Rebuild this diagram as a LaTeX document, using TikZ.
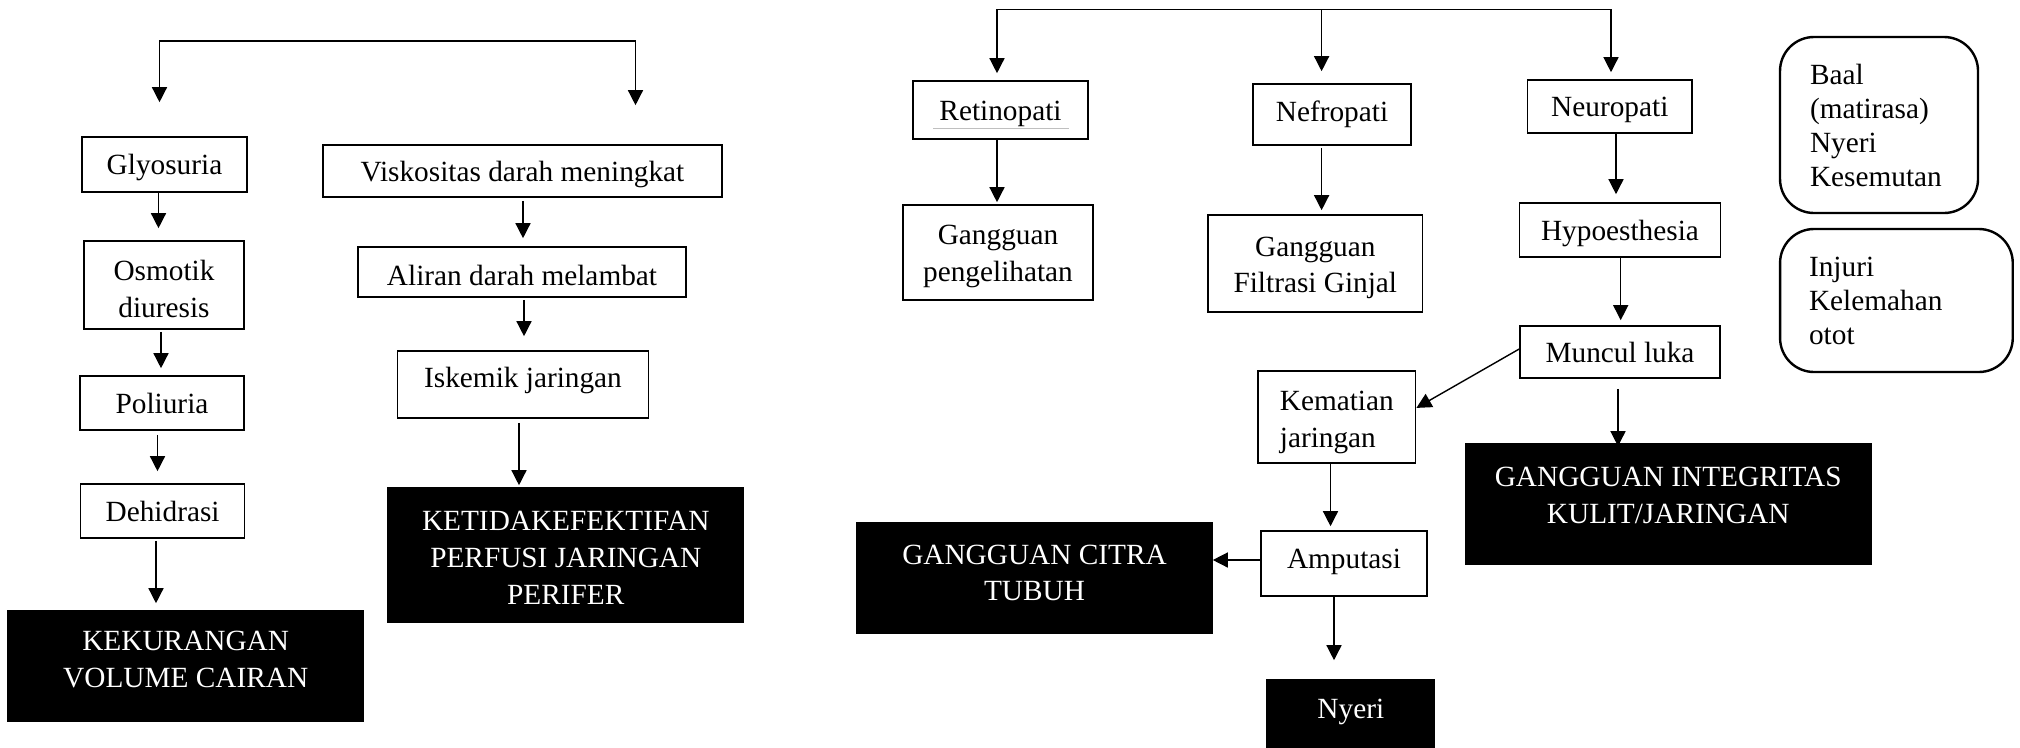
\documentclass[tikz,border=0pt]{standalone}
\usepackage{fontspec}
\setmainfont{Liberation Serif}
\usetikzlibrary{arrows.meta, positioning}

\begin{document}
\begin{tikzpicture}[x=1pt, y=-1pt,
  font=\fontsize{29.3}{36.7}\selectfont,
  box/.style={draw, line width=1.6pt, inner sep=0pt, align=center},
  one/.style={text height=26pt, text depth=6pt},
  blk/.style={box, draw=black, fill=black, text=white},
  note/.style={draw, line width=2.4pt, rounded corners=34pt, align=left, inner sep=0pt, font=\fontsize{29.3}{34}\selectfont},
  arr/.style={-{Triangle[width=15pt, length=15pt]}, line width=1.4pt}]
\useasboundingbox (0,0) rectangle (2020,747);
\node[box, one, minimum width=165pt, minimum height=55pt] (glyo) at (164.5,164.5) {Glyosuria};
\node[box, minimum width=160pt, minimum height=88pt] (osmo) at (164,285) {\rule{0pt}{28pt}Osmotik\\diuresis};
\node[box, one, minimum width=164pt, minimum height=54pt] (poli) at (162,403) {Poliuria};
\node[box, one, minimum width=164pt, minimum height=54pt] (dehi) at (162.6,511) {Dehidrasi};
\node[blk, minimum width=355.5pt, minimum height=110pt] (kurang) at (185.7,666) {KEKURANGAN\\VOLUME CAIRAN\rule[-13pt]{0pt}{13pt}};
\node[box, one, minimum width=399pt, minimum height=52pt] (visko) at (522.5,171) {Viskositas darah meningkat};
\node[box, text height=32pt, text depth=6pt, minimum width=328pt, minimum height=50pt] (aliran) at (522,272) {Aliran darah melambat};
\node[box, text height=11pt, text depth=6pt, minimum width=251pt, minimum height=67pt] (iskemik) at (523,384.5) {Iskemik jaringan};
\node[blk, minimum width=355.6pt, minimum height=134pt] (tidak) at (565.8,555) {\rule{0pt}{25pt}KETIDAKEFEKTIFAN\\PERFUSI JARINGAN\\PERIFER};
\node[box, one, minimum width=175pt, minimum height=58pt] (retino) at (1000.5,110) {Retinopati};
\node[box, minimum width=190pt, minimum height=95pt] (lihat) at (998,252.5) {\rule{0pt}{28pt}Gangguan\\pengelihatan};
\node[box, minimum width=158pt, minimum height=61pt] (nefro) at (1332,114.5) {Nefropati};
\node[box, minimum width=214.6pt, minimum height=97pt] (ginjal) at (1315.3,263.5) {\rule{0pt}{28pt}Gangguan\\Filtrasi Ginjal};
\node[box, one, minimum width=164.4pt, minimum height=53pt] (neuro) at (1609.8,106.5) {Neuropati};
\node[box, one, minimum width=201pt, minimum height=54pt] (hypo) at (1620,230) {Hypoesthesia};
\node[box, one, minimum width=200pt, minimum height=52pt] (muncul) at (1620,352) {Muncul luka};
\node[box, align=left, minimum width=157.6pt, minimum height=91.7pt] (kematian) at (1336.8,416.9) {\rule{0pt}{30pt}Kematian\\jaringan};
\node[blk, minimum width=405pt, minimum height=120pt] (integ) at (1668.2,504) {GANGGUAN INTEGRITAS\\KULIT/JARINGAN\rule[-18pt]{0pt}{18pt}};
\node[box, text height=15.6pt, text depth=6pt, minimum width=166pt, minimum height=65pt] (amputasi) at (1344,563.5) {Amputasi};
\node[blk, minimum width=355pt, minimum height=110.3pt] (citra) at (1034.5,577.9) {GANGGUAN CITRA\\TUBUH\rule[-10pt]{0pt}{10pt}};
\node[blk, text height=15pt, text depth=6pt, minimum width=167.5pt, minimum height=67pt] (nyeri) at (1350.8,713.5) {Nyeri};
\node[note, text width=138pt, inner xsep=30pt, minimum height=176pt] (baal) at (1879,125) {Baal\\(matirasa)\\Nyeri\\Kesemutan};
\node[note, text width=174.7pt, inner xsep=29pt, minimum height=143pt] (injuri) at (1896.4,300.5) {Injuri\\Kelemahan\\otot};
\draw[gray!50, line width=1pt] ([xshift=-67.5pt, yshift=-18pt]retino.center) -- ([xshift=68.5pt, yshift=-18pt]retino.center);
\coordinate (ltop) at (159.5,41);
\coordinate (rtop) at (635.5,41);
\coordinate (t1) at (997,9.5);
\coordinate (t2) at (1321.6,9.5);
\coordinate (t3) at (1611,9.5);
\draw[arr, shorten >=34pt] (rtop) -- (ltop) -- (ltop |- glyo.north);
\draw[arr, shorten >=39pt] (ltop) -- (rtop) -- (rtop |- visko.north);
\draw[arr, shorten >=7pt] (t3) -- (t1) -- (t1 |- retino.north);
\draw[arr, shorten >=12pt] (t2) -- (t2 |- nefro.north);
\draw[arr, shorten >=7pt] (t1) -- (t3) -- (t3 |- neuro.north);
\draw[arr, shorten >=12pt] ([xshift=-6pt]glyo.south) -- ([xshift=-5.5pt]osmo.north);
\draw[arr, shorten <=2pt, shorten >=7pt] ([xshift=-3pt]osmo.south) -- ([xshift=-1pt]poli.north);
\draw[arr, shorten <=4pt, shorten >=12pt] ([xshift=-4.5pt]poli.south) -- ([xshift=-5.1pt]dehi.north);
\draw[arr, shorten <=2pt, shorten >=7pt] ([xshift=-6.6pt]dehi.south) -- ([xshift=-29.7pt]kurang.north);
\draw[arr, shorten <=3pt, shorten >=8pt] ([xshift=0.5pt]visko.south) -- ([xshift=1pt]aliran.north);
\draw[arr, shorten <=2pt, shorten >=14pt] ([xshift=2pt]aliran.south) -- ([xshift=1pt]iskemik.north);
\draw[arr, shorten <=4pt, shorten >=2pt] ([xshift=-4pt]iskemik.south) -- ([xshift=-46.8pt]tidak.north);
\draw[arr, shorten >=2pt] ([xshift=-3.5pt]retino.south) -- ([xshift=-1pt]lihat.north);
\draw[arr, shorten <=2pt, shorten >=4pt] ([xshift=-10.4pt]nefro.south) -- ([xshift=6.3pt]ginjal.north);
\draw[arr, shorten >=8pt] ([xshift=6.2pt]neuro.south) -- ([xshift=-4pt]hypo.north);
\draw[arr, shorten >=5pt] ([xshift=0.7pt]hypo.south) -- ([xshift=0.7pt]muncul.north);
\draw[arr, shorten <=10pt, shorten >=-3pt] ([xshift=-2pt]muncul.south) -- ([xshift=-50.2pt]integ.north);
\draw[arr] ([yshift=3pt]muncul.west) -- ([yshift=9pt]kematian.east);
\draw[arr, shorten >=4pt] ([xshift=-6.3pt]kematian.south) -- ([xshift=-13.5pt]amputasi.north);
\draw[arr] ([yshift=3.5pt]amputasi.west) -- ([yshift=17.9pt]citra.east);
\draw[arr, shorten >=19pt] ([xshift=-10pt]amputasi.south) -- ([xshift=-16.8pt]nyeri.north);
\end{tikzpicture}
\end{document}
